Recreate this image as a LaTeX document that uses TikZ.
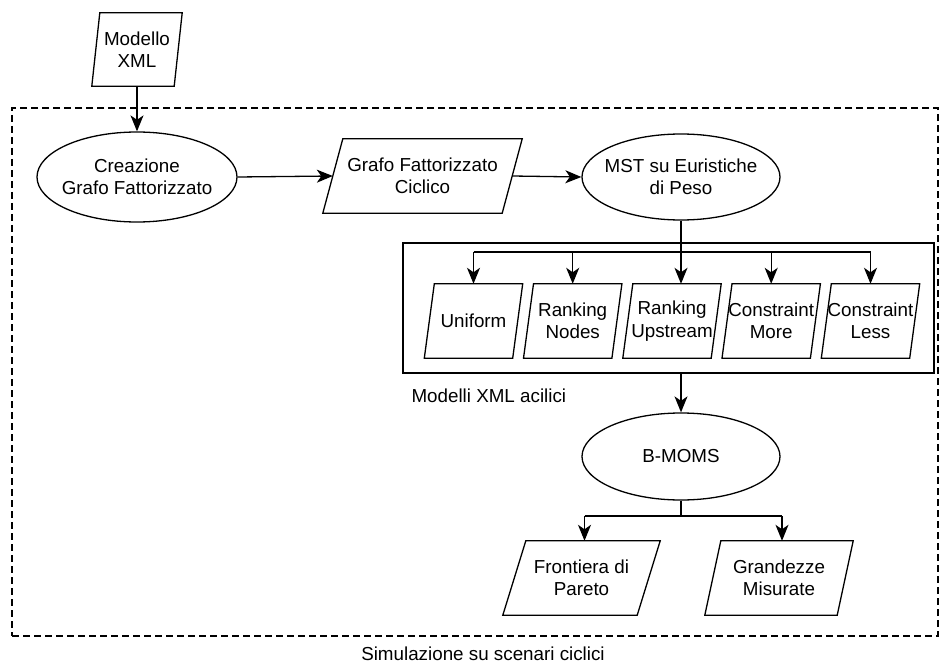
\documentclass[tikz,border=0pt]{standalone}
\usepackage{fontspec}
\setmainfont{Liberation Sans}
\usetikzlibrary{arrows.meta,shapes.geometric}

\tikzset{
  txt/.style={font=\fontsize{18.8}{22.5}\selectfont, align=center, text=black},
  ln/.style={line width=1.3pt, draw=black},
  arr/.style={ln, -{Stealth[length=16pt,width=13pt,inset=4.5pt]}},
  oval/.style={txt, ellipse, ln, inner sep=-8pt},
  % parallelogram: plain box whose outline is redrawn slanted by #1
  para/.style={txt, inner sep=0pt,
    append after command={\pgfextra{
      \draw[ln, line join=miter]
        ([xshift=#1]\tikzlastnode.north west) -- (\tikzlastnode.north east)
        -- ([xshift=-#1]\tikzlastnode.south east) -- (\tikzlastnode.south west) -- cycle;}}},
  frame/.style={draw=black, line width=1.3pt, inner sep=0pt},
  dframe/.style={frame, dashed, dash pattern=on 7pt off 4pt},
}

\begin{document}
\begin{tikzpicture}[x=1pt, y=-1pt]
\useasboundingbox (0,0) rectangle (942,666);

% outer dashed region and its caption
\node[dframe, minimum width=926pt, minimum height=528pt] (sim) at (475,372) {};
\node[txt, inner sep=0pt, anchor=base] (simlbl) at (483,660) {Simulazione su scenari ciclici};

% input model
\node[para=8pt, minimum width=90pt, minimum height=73pt] (mx) at (137,49.5) {Modello\\XML};

% first row
\node[oval, minimum width=200pt, minimum height=90pt] (cgf) at (137,177) {Creazione\\Grafo Fattorizzato};
\node[para=20pt, minimum width=199pt, minimum height=74pt] (gfc) at (422.5,176) {Grafo Fattorizzato\\Ciclico};
\node[oval, minimum width=198pt, minimum height=86pt] (mst) at (681,177) {MST su Euristiche\\di Peso};

% group of weight heuristics
\node[frame, minimum width=531pt, minimum height=130pt] (grp) at (668.5,308) {};
\node[para=10pt, minimum width=98pt, minimum height=74pt] (uni) at (473.5,321) {Uniform};
\node[para=10pt, minimum width=98pt, minimum height=74pt] (rn)  at (572.7,321) {Ranking\\Nodes};
\node[para=10pt, minimum width=98pt, minimum height=74pt] (ru)  at (672.0,321) {Ranking\\Upstream};
\node[para=10pt, minimum width=98pt, minimum height=74pt] (cm)  at (771.2,321) {Constraint\\More};
\node[para=10pt, minimum width=98pt, minimum height=74pt] (cl)  at (870.5,321) {Constraint\\Less};
\node[txt, anchor=west] (acl) at (408,396) {Modelli XML acilici};

% optimisation and results
\node[oval, minimum width=198pt, minimum height=87pt] (bm) at (681,456.5) {B-MOMS};
\node[para=23pt, minimum width=157pt, minimum height=74pt] (fp) at (581.5,578) {Frontiera di\\Pareto};
\node[para=16pt, minimum width=148pt, minimum height=74pt] (gm) at (779,578) {Grandezze\\Misurate};

% branch points
\coordinate (br) at (681,252);
\coordinate (br2) at (681,516);

% connectors
\draw[arr] (mx.south) -- (cgf.north);
\draw[arr] (cgf.east) -- ([xshift=10pt]gfc.west);
\draw[arr] ([xshift=-10pt]gfc.east) -- (mst.west);

\draw[arr] (mst.south) -- (mst.south |- ru.north);
\draw[ln] (uni.north |- br) -- (cl.north |- br);
\draw[arr] (uni.north |- br) -- (uni.north);
\draw[arr] (rn.north |- br) -- (rn.north);
\draw[arr] (cm.north |- br) -- (cm.north);
\draw[arr] (cl.north |- br) -- (cl.north);

\draw[arr] (bm.north |- grp.south) -- (bm.north);

\draw[ln] (bm.south) -- (br2);
\draw[ln] ([xshift=3pt]fp.north |- br2) -- ([xshift=3pt]gm.north |- br2);
\draw[arr] ([xshift=3pt]fp.north |- br2) -- ([xshift=3pt]fp.north);
\draw[arr] ([xshift=3pt]gm.north |- br2) -- ([xshift=3pt]gm.north);
\end{tikzpicture}
\end{document}
